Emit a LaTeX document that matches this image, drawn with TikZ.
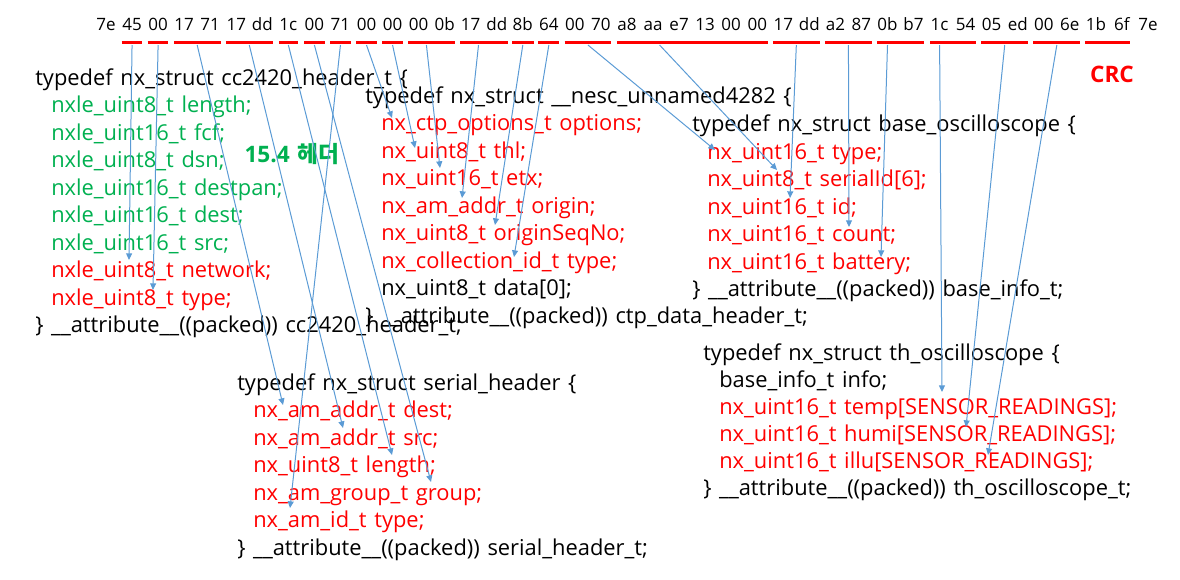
\documentclass[tikz,border=0pt]{standalone}
\usepackage{fontspec}
\setmainfont{Open Sans}[WordSpace=1.35]
\newfontfamily\krfont{Noto Sans CJK KR}
\usepackage{tikz}
\usetikzlibrary{arrows.meta}
\usetikzlibrary{calc}

\definecolor{fieldred}{RGB}{255,0,0}
\definecolor{hdrgreen}{RGB}{0,176,80}
\definecolor{linkblue}{RGB}{91,155,213}

\tikzset{
  hexbyte/.style={font=\fontsize{12.75}{15}\selectfont, inner xsep=0.3pt, inner ysep=0pt, anchor=base},
  code/.style={font=\fontsize{16.4}{19}\selectfont, inner sep=0pt, anchor=base west},
  field/.style={draw=fieldred, line width=2.25pt},
  link/.style={draw=linkblue, line width=0.75pt, -{Triangle[length=5pt,width=4.5pt]}},
}

\begin{document}
\begin{tikzpicture}[x=0.75pt,y=-0.75pt]
	\useasboundingbox (0,0) rectangle (1180,579);

	% packet bytes
	\foreach \v [count=\i from 0] in {7e,45,00,17,71,17,dd,1c,00,71,00,00,00,0b,17,dd,8b,64,00,70,a8,aa,e7,13,00,00,17,dd,a2,87,0b,b7,1c,54,05,ed,00,6e,1b,6f,7e}
		\node[hexbyte] (b\i) at (106+26.05*\i,30) {\v};
	\coordinate (rule) at (0,42);
	\coordinate (start) at (0,45);
	\foreach \a/\b in {1/1,2/2,3/4,5/6,7/7,8/8,9/9,10/10,11/11,12/13,14/15,16/16,17/17,18/19,20/25,26/27,28/29,30/31,32/33,34/35,36/37,38/39}
		\draw[field] (b\a.west |- rule) -- (b\b.east |- rule);

	\node[font=\fontsize{17}{20}\selectfont\bfseries, text=fieldred] (crc) at (1112,74) {CRC};
	\node[font=\fontsize{17}{20}\selectfont\bfseries, text=hdrgreen] (lbl154) at (292,154) {15.4 {\krfont\bfseries 헤더}};

	\begin{scope}[every node/.style={code}]
		\node (cc-head) at (35,85) {typedef nx\_struct cc2420\_header\_t \{};
		\node[text=hdrgreen] (cc-length) at (51,112.5) {nxle\_uint8\_t length;};
		\node[text=hdrgreen] (cc-fcf) at (51,140) {nxle\_uint16\_t fcf;};
		\node[text=hdrgreen] (cc-dsn) at (51,167.5) {nxle\_uint8\_t dsn;};
		\node[text=hdrgreen] (cc-destpan) at (51,195) {nxle\_uint16\_t destpan;};
		\node[text=hdrgreen] (cc-dest) at (51,222.5) {nxle\_uint16\_t dest;};
		\node[text=hdrgreen] (cc-src) at (51,250) {nxle\_uint16\_t src;};
		\node[text=fieldred] (cc-network) at (51,277.5) {nxle\_uint8\_t network;};
		\node[text=fieldred] (cc-type) at (51,305) {nxle\_uint8\_t type;};
		\node (cc-end) at (35,332.5) {\} \_\_attribute\_\_((packed)) cc2420\_header\_t;};
	\end{scope}

	\begin{scope}[every node/.style={code}]
		\node (ctp-head) at (365,103) {typedef nx\_struct \_\_nesc\_unnamed4282 \{};
		\node[text=fieldred] (ctp-options) at (381,130.5) {nx\_ctp\_options\_t options;};
		\node[text=fieldred] (ctp-thl) at (381,158) {nx\_uint8\_t thl;};
		\node[text=fieldred] (ctp-etx) at (381,185.5) {nx\_uint16\_t etx;};
		\node[text=fieldred] (ctp-origin) at (381,213) {nx\_am\_addr\_t origin;};
		\node[text=fieldred] (ctp-seqno) at (381,240.5) {nx\_uint8\_t originSeqNo;};
		\node[text=fieldred] (ctp-type) at (381,268) {nx\_collection\_id\_t type;};
		\node (ctp-data) at (381,295.5) {nx\_uint8\_t data[0];};
		\node (ctp-end) at (365,323) {\} \_\_attribute\_\_((packed)) ctp\_data\_header\_t;};
	\end{scope}

	\begin{scope}[every node/.style={code}]
		\node (base-head) at (692,131.5) {typedef nx\_struct base\_oscilloscope \{};
		\node[text=fieldred] (base-type) at (707,159) {nx\_uint16\_t type;};
		\node[text=fieldred] (base-serial) at (707,186.5) {nx\_uint8\_t serialId[6];};
		\node[text=fieldred] (base-id) at (707,214) {nx\_uint16\_t id;};
		\node[text=fieldred] (base-count) at (707,241.5) {nx\_uint16\_t count;};
		\node[text=fieldred] (base-battery) at (707,269) {nx\_uint16\_t battery;};
		\node (base-end) at (692,296.5) {\} \_\_attribute\_\_((packed)) base\_info\_t;};
	\end{scope}

	\begin{scope}[every node/.style={code}]
		\node (th-head) at (703,360) {typedef nx\_struct th\_oscilloscope \{};
		\node (th-info) at (719,387) {base\_info\_t info;};
		\node[text=fieldred] (th-temp) at (719,414) {nx\_uint16\_t temp[SENSOR\_READINGS];};
		\node[text=fieldred] (th-humi) at (719,441) {nx\_uint16\_t humi[SENSOR\_READINGS];};
		\node[text=fieldred] (th-illu) at (719,468) {nx\_uint16\_t illu[SENSOR\_READINGS];};
		\node (th-end) at (703,495) {\} \_\_attribute\_\_((packed)) th\_oscilloscope\_t;};
	\end{scope}

	\begin{scope}[every node/.style={code}]
		\node (ser-head) at (237,390) {typedef nx\_struct serial\_header \{};
		\node[text=fieldred] (ser-dest) at (253,417.5) {nx\_am\_addr\_t dest;};
		\node[text=fieldred] (ser-src) at (253,445) {nx\_am\_addr\_t src;};
		\node[text=fieldred] (ser-length) at (253,472.5) {nx\_uint8\_t length;};
		\node[text=fieldred] (ser-group) at (253,500) {nx\_am\_group\_t group;};
		\node[text=fieldred] (ser-type) at (253,527.5) {nx\_am\_id\_t type;};
		\node (ser-end) at (237,555) {\} \_\_attribute\_\_((packed)) serial\_header\_t;};
	\end{scope}

	% byte -> field links
	\draw[link] (b1 |- start) -- ($(cc-network.base west)+(78,-17.5)$);
	\draw[link] (b2 |- start) -- ($(cc-type.base west)+(102,-15)$);
	\draw[link] ($(b3 |- start)!.5!(b4 |- start)$) -- ($(ser-dest.base west)+(30,-12.5)$);
	\draw[link] ($(b5 |- start)!.5!(b6 |- start)$) -- ($(ser-src.base west)+(90,-17)$);
	\draw[link] (b7 |- start) -- ($(ser-length.base west)+(139,-17.5)$);
	\draw[link] (b8 |- start) -- ($(ser-group.base west)+(178,-18)$);
	\draw[link] (b9 |- start) -- ($(ser-type.base west)+(37,-19.5)$);
	\draw[link] (b10 |- start) -- ($(ctp-options.base west)+(11,-12.5)$);
	\draw[link] (b11 |- start) -- ($(ctp-thl.base west)+(34,-10)$);
	\draw[link] ($(b12 |- start)!.3!(b13 |- start)$) -- ($(ctp-etx.base west)+(59,-17.5)$);
	\draw[link] ($(b14 |- start)!.3!(b15 |- start)$) -- ($(ctp-origin.base west)+(81,-15)$);
	\draw[link] (b16 |- start) -- ($(ctp-seqno.base west)+(114,-15.5)$);
	\draw[link] (b17 |- start) -- ($(ctp-type.base west)+(133,-11)$);
	\draw[link] ($(b18 |- start)!.5!(b19 |- start)$) -- ($(base-type.base west)+(8,-9)$);
	\draw[link] ($(b21 |- start)!.25!(b22 |- start)$) -- ($(base-serial.base west)+(70,-16.5)$);
	\draw[link] ($(b26 |- start)!.5!(b27 |- start)$) -- ($(base-id.base west)+(83,-16)$);
	\draw[link] ($(b28 |- start)!.5!(b29 |- start)$) -- ($(base-count.base west)+(142,-14.5)$);
	\draw[link] (b30 |- start) -- ($(base-battery.base west)+(174,-12)$);
	\draw[link] (b32 |- start) -- ($(th-temp.base west)+(223,-22)$);
	\draw[link] ($(b34 |- start)!.5!(b35 |- start)$) -- ($(th-humi.base west)+(247,-14)$);
	\draw[link] ($(b36 |- start)!.5!(b37 |- start)$) -- ($(th-illu.base west)+(269,-13)$);
\end{tikzpicture}
\end{document}
